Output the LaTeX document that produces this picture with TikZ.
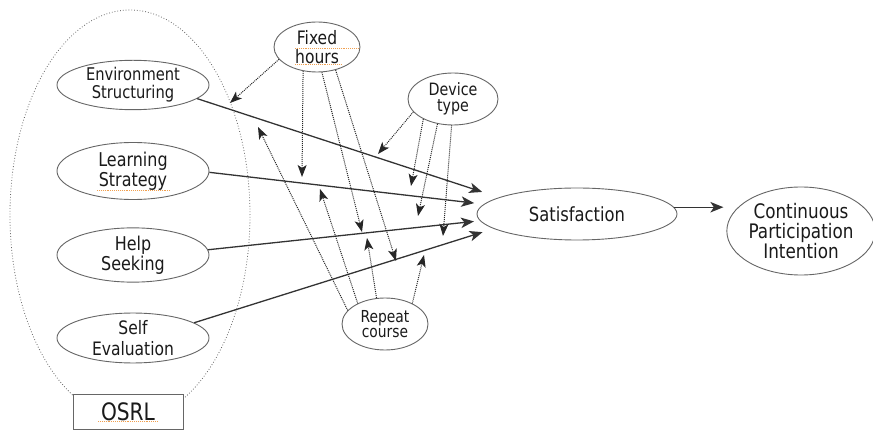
\documentclass[tikz,border=0pt]{standalone}
\usepackage{fontspec}
\setmainfont{DejaVu Sans}[FakeStretch=0.84]
\usetikzlibrary{shapes.geometric,arrows.meta}
\definecolor{txt}{HTML}{1A1A1A}
\definecolor{edgec}{HTML}{666666}
\definecolor{spell}{HTML}{F0A050}
\begin{document}
\begin{tikzpicture}[x=1pt,y=-1pt,
  var/.style={ellipse, draw=edgec, line width=0.9pt, fill=white, inner sep=0pt, align=center, text=txt},
  solidarrow/.style={draw=black!80, line width=1.3pt, -{Stealth[length=13pt,width=10.5pt,inset=3.5pt]}},
  modarrow/.style={draw=black!85, line width=1pt, densely dotted, -{Stealth[length=12pt,width=9pt,inset=3pt]}},
  spellline/.style={draw=spell, line width=0.9pt, densely dotted},
  ]
\useasboundingbox (0,0) rectangle (873,430);
% group ellipse
\node[ellipse, draw=edgec, dotted, line width=0.8pt, minimum width=240pt, minimum height=410pt, inner sep=0pt] (group) at (130,215) {};
% OSRL variables
\node[var, minimum width=152pt, minimum height=46pt, font=\fontsize{17.5}{18}\selectfont] (env) at (133,85) {Environment\\Structuring};
\node[var, minimum width=152pt, minimum height=57pt, font=\fontsize{19}{20}\selectfont] (learn) at (133,171) {Learning\\Strategy};
\node[var, minimum width=152pt, minimum height=46pt, font=\fontsize{19}{20}\selectfont] (help) at (133,255) {Help\\Seeking};
\node[var, minimum width=152pt, minimum height=47pt, font=\fontsize{18.5}{21}\selectfont] (self) at (133,338) {Self\\Evaluation};
\node[draw=edgec, line width=0.9pt, fill=white, text=txt, minimum width=110pt, minimum height=35pt, inner sep=0pt, font=\fontsize{24}{24}\selectfont] (osrl) at (128,411.5) {OSRL};
% moderators
\node[var, minimum width=86pt, minimum height=50pt, font=\fontsize{18.5}{18.5}\selectfont] (fixed) at (317,47) {Fixed\\hours};
\node[var, minimum width=90pt, minimum height=52pt, font=\fontsize{17}{16.5}\selectfont] (device) at (453,99) {Device\\type};
\node[var, minimum width=86pt, minimum height=52pt, font=\fontsize{16.5}{15.5}\selectfont] (repeat) at (385,324) {Repeat\\course};
% outcomes
\node[var, minimum width=200pt, minimum height=52pt, font=\fontsize{19.5}{20}\selectfont] (sat) at (577,214) {Satisfaction};
\node[var, minimum width=142pt, minimum height=88pt, font=\fontsize{20}{20}\selectfont] (cpi) at (801,231) {Continuous\\Participation\\Intention};
% spell-check underlines
\draw[spellline] (97,190) -- (170,190);
\draw[spellline] (295,48) -- (358,48);
\draw[spellline] (295,64) -- (342,64);
\draw[spellline] (98,421) -- (157,421);
% solid paths
\draw[solidarrow, shorten >=17.5pt] (env.348) -- (sat.168);
\draw[solidarrow, shorten >=9.6pt] (learn.359) -- (sat.174);
\draw[solidarrow, shorten >=6pt] (help.4) -- (sat.184.4);
\draw[solidarrow, shorten >=11.5pt] (self.14) -- (sat.190);
\draw[solidarrow, shorten >=3pt] (sat.4) -- (cpi.west |- sat.4);
% moderator targets
\coordinate (f1) at (230,103);
\coordinate (f2) at (302,177);
\coordinate (f3) at (362,232);
\coordinate (f4) at (396,261);
\coordinate (d1) at (378,154);
\coordinate (d2) at (411,186);
\coordinate (d3) at (418,216);
\coordinate (d4) at (443,236);
\coordinate (r1) at (258,127);
\coordinate (r2) at (320,189);
\coordinate (r3) at (367,238);
\coordinate (r4) at (424,255);
% moderator arrows
\draw[modarrow] (fixed.198) -- (f1);
\draw[modarrow] (fixed.240) -- (f2);
\draw[modarrow] (fixed.281) -- (f3);
\draw[modarrow] (fixed.309) -- (f4);
\draw[modarrow] (device.198) -- (d1);
\draw[modarrow] (device.214) -- (d2);
\draw[modarrow] (device.238) -- (d3);
\draw[modarrow] (device.267) -- (d4);
\draw[modarrow] (repeat.160) -- (r1);
\draw[modarrow] (repeat.143) -- (r2);
\draw[modarrow] (repeat.108) -- (r3);
\draw[modarrow] (repeat.37) -- (r4);
\end{tikzpicture}
\end{document}
